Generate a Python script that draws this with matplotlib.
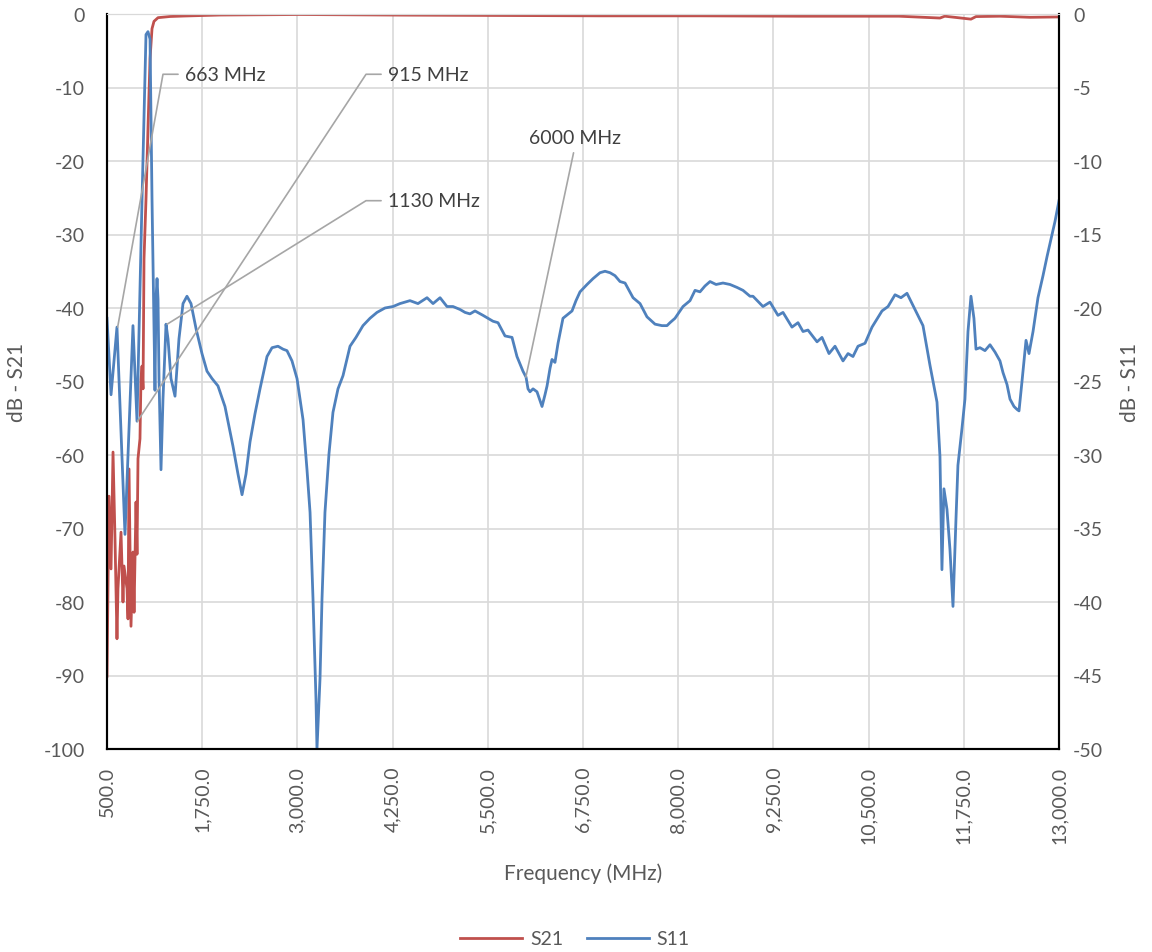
import numpy as np
import matplotlib
matplotlib.use("Agg")
import matplotlib.pyplot as plt
from matplotlib.ticker import FuncFormatter, MultipleLocator, FixedLocator

plt.rcParams['font.family'] = ['Lato', 'DejaVu Sans']
plt.rcParams['axes.unicode_minus'] = False

# S11 (secondary axis, dB)
s11_freq = [500, 553, 631, 736, 841, 894, 960, 1012, 1038, 1065, 1091, 1117, 1130,
            1143, 1157, 1170, 1183, 1209, 1235, 1275, 1301, 1340, 1393, 1445, 1498,
            1550, 1603, 1669, 1747, 1813, 1879, 1957, 2049, 2154, 2220, 2273, 2325,
            2378, 2443, 2509, 2601, 2667, 2745, 2811, 2863, 2929, 2995, 3074, 3126,
            3166, 3205, 3244, 3257, 3297, 3323, 3362, 3415, 3467, 3533, 3599, 3691,
            3769, 3861, 3953, 4045, 4150, 4255, 4347, 4413, 4478, 4583, 4702, 4781,
            4873, 4964, 5043, 5135, 5201, 5266, 5332, 5437, 5503, 5568, 5634, 5726,
            5818, 5883, 5962, 6002, 6028, 6054, 6094, 6146, 6212, 6251, 6278, 6317,
            6343, 6382, 6422, 6487, 6606, 6658, 6711, 6803, 6882, 6973, 7039, 7105,
            7170, 7236, 7302, 7407, 7499, 7590, 7696, 7787, 7853, 7892, 7958, 8063,
            8155, 8221, 8286, 8352, 8418, 8497, 8588, 8680, 8772, 8851, 8943, 8982,
            9113, 9205, 9310, 9376, 9494, 9573, 9639, 9704, 9823, 9888, 9980, 10059,
            10164, 10230, 10295, 10361, 10453, 10545, 10676, 10755, 10847, 10925,
            11004, 11109, 11214, 11306, 11332, 11398, 11437, 11463, 11489, 11529,
            11568, 11608, 11647, 11673, 11726, 11765, 11805, 11844, 11883, 11910,
            11962, 12028, 12094, 12160, 12225, 12265, 12317, 12357, 12409, 12449,
            12475, 12514, 12567, 12606, 12659, 12724, 12790, 12843, 12882, 12948, 13000]
s11_db = [-20.7, -25.9, -21.3, -35.4, -21.2, -27.7, -12.6, -1.4, -1.2, -1.7, -12.6, -21.4, -25.6,
          -19.4, -18.0, -19.4, -24.8, -31.0, -26.2, -21.1, -22.1, -24.8, -26.0, -22.1, -19.7,
          -19.2, -19.7, -21.4, -23.1, -24.3, -24.8, -25.3, -26.7, -29.4, -31.3, -32.7, -31.3,
          -29.1, -27.2, -25.5, -23.3, -22.7, -22.6, -22.8, -22.9, -23.6, -24.8, -27.6, -31.0,
          -33.9, -39.8, -46.6, -50.0, -45.2, -39.8, -33.9, -29.9, -27.1, -25.5, -24.6, -22.6,
          -22.0, -21.2, -20.7, -20.3, -20.0, -19.9, -19.7, -19.6, -19.5, -19.7, -19.3, -19.7,
          -19.3, -19.9, -19.9, -20.1, -20.3, -20.4, -20.2, -20.5, -20.7, -20.9, -21.0, -21.9,
          -22.0, -23.3, -24.3, -24.7, -25.5, -25.7, -25.5, -25.7, -26.7, -25.9, -25.3, -24.1,
          -23.5, -23.7, -22.4, -20.7, -20.2, -19.5, -18.9, -18.4, -18.0, -17.6, -17.5, -17.6,
          -17.8, -18.2, -18.3, -19.3, -19.7, -20.6, -21.1, -21.2, -21.2, -21.0, -20.7, -19.9,
          -19.5, -18.8, -18.9, -18.5, -18.2, -18.4, -18.3, -18.4, -18.6, -18.8, -19.2, -19.2,
          -19.9, -19.6, -20.5, -20.3, -21.3, -21.0, -21.6, -21.5, -22.3, -22.0, -23.1, -22.6,
          -23.6, -23.1, -23.3, -22.6, -22.4, -21.3, -20.2, -19.9, -19.1, -19.3,
          -19.0, -20.1, -21.2, -23.9, -24.6, -26.4, -30.1, -37.8, -32.3, -33.7,
          -36.4, -40.3, -34.4, -30.7, -28.2, -26.2, -21.6, -19.2, -20.7, -22.8,
          -22.7, -22.9, -22.5, -23.0, -23.6, -24.4, -25.2, -26.2, -26.7, -26.9,
          -27.0, -25.0, -22.2, -23.1, -21.6, -19.3, -17.8, -16.5, -15.6, -14.1, -12.7]

# S21 (primary axis, dB)
s21_freq = [500, 526, 553, 579, 605, 631, 644, 684, 710, 723, 763, 776, 789, 815, 841,
            855, 881, 894, 907, 933, 946, 960, 973, 986, 1012, 1038, 1065, 1091, 1117,
            1170, 1327, 1524, 1984, 3034, 4347, 5650, 6973, 8286, 9600, 10900, 11437,
            11500, 11844, 11910, 12225, 12620, 13000]
s21_db = [-90.1, -65.6, -75.5, -59.6, -71.4, -85.0, -78.2, -70.5, -80.0, -75.1, -78.2,
          -82.3, -61.9, -83.3, -73.2, -81.4, -66.4, -73.5, -60.5, -57.8, -49.7, -47.9,
          -51.0, -33.3, -25.2, -15.6, -6.1, -2.0, -1.0, -0.5, -0.34, -0.27, -0.14, -0.07,
          -0.15, -0.2, -0.25, -0.25, -0.3, -0.3, -0.55, -0.3, -0.7, -0.35, -0.3, -0.45, -0.4]

freq_ticks = [500, 1750, 3000, 4250, 5500, 6750, 8000, 9250, 10500, 11750, 13000]

# callouts: label, pointed frequency, S11 at point, text x (MHz), text y (S11 dB)
notes = [("663 MHz", 640, -21.3, 1524, -4.1),
         ("915 MHz", 900, -27.7, 4190, -4.1),
         ("1130 MHz", 1290, -21.1, 4190, -12.7)]
note_6000 = ("6000 MHz", 6000, -24.7, 6645, -8.4)

red = '#C0504D'
blue = '#4F81BD'
grid_c = '#D9D9D9'
txt_c = '#595959'

fig = plt.figure(figsize=(11.52, 9.53), dpi=100)
ax = fig.add_axes([107/1152, 1-750/953, 952/1152, 735/953])
ax2 = ax.twinx()

l1, = ax.plot(s21_freq, s21_db, color=red, lw=2.0, label='S21')
l2, = ax2.plot(s11_freq, s11_db, color=blue, lw=2.0, label='S11')

ax.set_xlim(500, 13000)
ax.set_ylim(-100, 0)
ax2.set_ylim(-50, 0)
ax.xaxis.set_major_locator(FixedLocator(freq_ticks))
ax.yaxis.set_major_locator(MultipleLocator(10))
ax2.yaxis.set_major_locator(MultipleLocator(5))
ax.xaxis.set_major_formatter(FuncFormatter(lambda v, p: f"{v:,.1f}"))

ax.grid(True, color=grid_c, lw=1.2)
ax.set_axisbelow(True)
for a in (ax, ax2):
    a.tick_params(length=0, labelsize=14, labelcolor=txt_c)
    for side in ('left', 'right', 'bottom'):
        a.spines[side].set_color('black')
        a.spines[side].set_linewidth(1.5)
    a.spines['top'].set_color(grid_c)
ax.tick_params(axis='x', labelrotation=90, pad=12)
ax.tick_params(axis='y', pad=16)
ax2.tick_params(axis='y', pad=10)

ax.set_xlabel('Frequency (MHz)', fontsize=15, color=txt_c, labelpad=14)
ax.set_ylabel('dB - S21', fontsize=15, color=txt_c, labelpad=12)
ax2.set_ylabel('dB - S11', fontsize=15, color=txt_c, labelpad=12, rotation=90)

# callouts with a short horizontal leg then a diagonal leader
fig.canvas.draw()
for label, fx, fy, tx, ty in notes:
    px, py = ax2.transData.transform((fx, fy))
    qx, qy = ax2.transData.transform((tx, ty))
    cx = qx - 22
    ang = np.degrees(np.arctan2(qy - py, cx - px))
    ax2.annotate(label, xy=(fx, fy), xytext=(tx, ty), ha='left', va='center',
                 fontsize=14, color='#404040',
                 arrowprops=dict(arrowstyle='-', color='#A6A6A6', lw=1.2,
                                 shrinkA=3, shrinkB=0, relpos=(0, 0.5),
                                 connectionstyle=f"angle,angleA=0,angleB={ang},rad=0"))
label, fx, fy, tx, ty = note_6000
ax2.annotate(label, xy=(fx, fy), xytext=(tx, ty), ha='center', va='center',
             fontsize=14, color='#404040',
             arrowprops=dict(arrowstyle='-', color='#A6A6A6', lw=1.2,
                             shrinkA=3, shrinkB=0, relpos=(0.5, 0)))

leg = fig.legend(handles=[l1, l2], loc='center', bbox_to_anchor=(575/1152, 1-940/953),
                 ncol=2, frameon=False, fontsize=14, handlelength=3.2, columnspacing=1.2,
                 handletextpad=0.4)
for t in leg.get_texts():
    t.set_color(txt_c)

fig.savefig('out.png', dpi=100)
